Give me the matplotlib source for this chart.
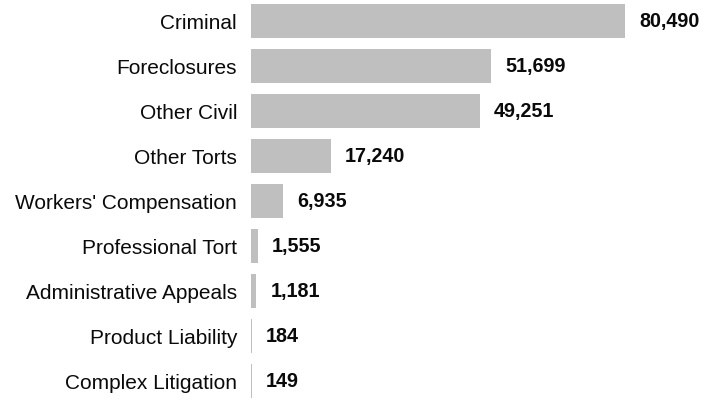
import matplotlib
matplotlib.use("Agg")
import matplotlib.pyplot as plt

# case types and their filing counts, top to bottom
categories = [
    "Criminal",
    "Foreclosures",
    "Other Civil",
    "Other Torts",
    "Workers' Compensation",
    "Professional Tort",
    "Administrative Appeals",
    "Product Liability",
    "Complex Litigation",
]
counts = [80490, 51699, 49251, 17240, 6935, 1555, 1181, 184, 149]

plt.rcParams["font.family"] = ["Liberation Sans", "DejaVu Sans"]

fig = plt.figure(figsize=(7.15, 4.0), dpi=100)
ax = fig.add_axes([251 / 715, 0, 464 / 715, 1])

y = range(len(categories))
ax.barh(y, counts, height=0.755, color="#bfbfbf")

for i, v in enumerate(counts):
    ax.annotate(f"{v:,}", xy=(v, i), xytext=(10, 0), textcoords="offset points",
                ha="left", va="center", fontsize=14.2, fontweight="bold", color="#0a0a0a")

ax.set_yticks(list(y))
ax.set_yticklabels(categories, fontsize=15, color="#0a0a0a")
ax.tick_params(axis="y", length=0, pad=10)
ax.set_xticks([])
ax.set_xlim(0, 99860)
ax.set_ylim(8.42, -0.467)
for s in ax.spines.values():
    s.set_visible(False)

fig.savefig("out.png", dpi=100)
